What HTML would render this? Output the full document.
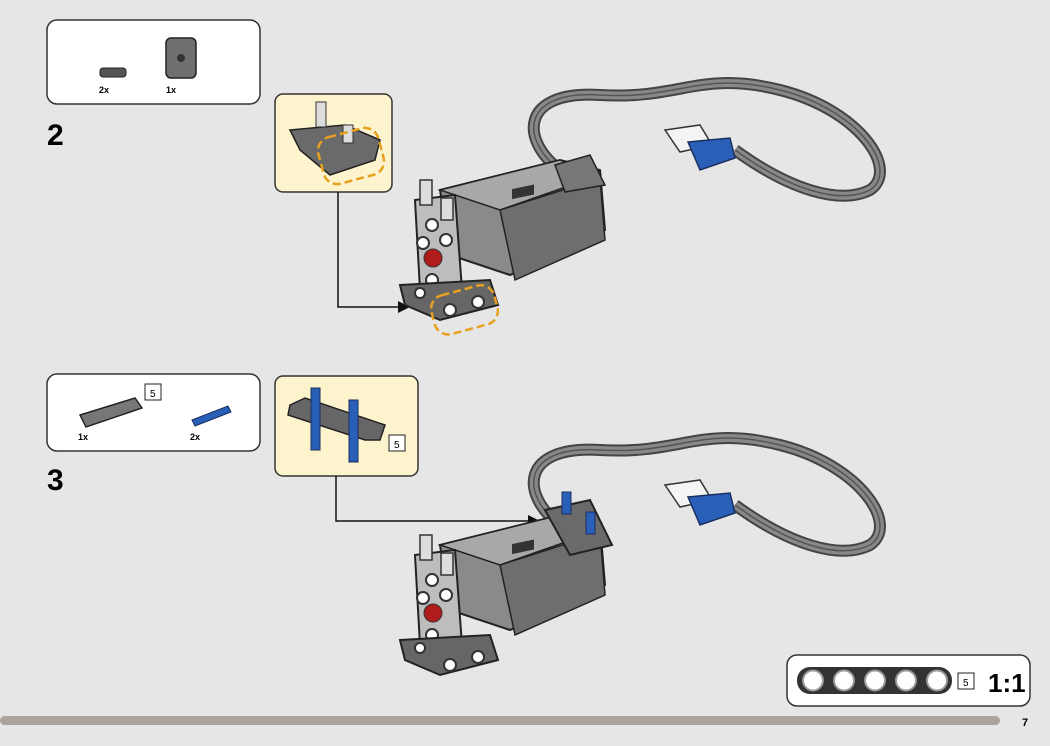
<!DOCTYPE html>
<html><head><meta charset="utf-8"><style>
html,body{margin:0;padding:0;background:#e6e6e6;}
svg{display:block;font-family:"Liberation Sans",sans-serif;}
</style></head><body>
<svg width="1050" height="746" viewBox="0 0 1050 746" xmlns="http://www.w3.org/2000/svg">
<rect width="1050" height="746" fill="#e6e6e6"/>
<defs>
<g id="motor">
  <!-- cable -->
  <path d="M560 170 C520 140 520 90 600 95 C680 100 700 70 780 90 C860 110 900 170 870 190 C840 205 790 190 735 150" fill="none" stroke="#444" stroke-width="12"/>
  <path d="M560 170 C520 140 520 90 600 95 C680 100 700 70 780 90 C860 110 900 170 870 190 C840 205 790 190 735 150" fill="none" stroke="#888" stroke-width="8" stroke-dasharray="none"/>
  <path d="M560 170 C520 140 520 90 600 95 C680 100 700 70 780 90 C860 110 900 170 870 190 C840 205 790 190 735 150" fill="none" stroke="#555" stroke-width="1.5"/>
  <!-- plug -->
  <polygon points="665,130 700,125 712,145 680,152" fill="#f4f4f4" stroke="#333" stroke-width="1.5"/>
  <polygon points="688,142 730,138 735,158 700,170" fill="#2a5fb8" stroke="#1a2f60" stroke-width="1.5"/>
  <!-- body -->
  <polygon points="440,190 560,160 600,170 605,230 510,275 450,255" fill="#8a8a8a" stroke="#222" stroke-width="2"/>
  <polygon points="440,190 560,160 600,175 500,210" fill="#a8a8a8" stroke="#222" stroke-width="1.5"/>
  <polygon points="500,210 600,178 605,240 515,280" fill="#6e6e6e" stroke="#222" stroke-width="1.5"/>
  <rect x="512" y="188" width="22" height="10" fill="#333" transform="skewY(-12) translate(0,110)"/>
  <!-- front face -->
  <polygon points="415,200 455,195 462,290 420,290" fill="#bdbdbd" stroke="#222" stroke-width="2"/>
  <circle cx="433" cy="258" r="9" fill="#b01c1c" stroke="#333"/>
  <circle cx="432" cy="225" r="6" fill="#fff" stroke="#333" stroke-width="2"/>
  <circle cx="446" cy="240" r="6" fill="#fff" stroke="#333" stroke-width="2"/>
  <circle cx="423" cy="243" r="6" fill="#fff" stroke="#333" stroke-width="2"/>
  <circle cx="432" cy="280" r="6" fill="#fff" stroke="#333" stroke-width="2"/>
  <!-- pins -->
  <rect x="420" y="180" width="12" height="25" fill="#ddd" stroke="#333" stroke-width="1.5"/>
  <rect x="441" y="198" width="12" height="22" fill="#ddd" stroke="#333" stroke-width="1.5"/>
  <!-- top right plate -->
  <polygon points="555,165 590,155 605,185 565,192" fill="#777" stroke="#222" stroke-width="1.5"/>
  <!-- bottom beam -->
  <polygon points="400,285 490,280 498,305 440,320 405,305" fill="#666" stroke="#222" stroke-width="2"/>
  <circle cx="450" cy="310" r="6" fill="#fff" stroke="#333" stroke-width="2"/>
  <circle cx="478" cy="302" r="6" fill="#fff" stroke="#333" stroke-width="2"/>
  <circle cx="420" cy="293" r="5" fill="#fff" stroke="#333" stroke-width="2"/>
</g>
</defs>

<!-- Step 2 parts -->
<rect x="47" y="20" width="213" height="84" rx="10" fill="#fff" stroke="#333" stroke-width="1.5"/>
<rect x="100" y="68" width="26" height="9" rx="3" fill="#555" stroke="#222"/>
<rect x="166" y="38" width="30" height="40" rx="5" fill="#707070" stroke="#222" stroke-width="1.5"/>
<circle cx="181" cy="58" r="4" fill="#333"/>
<text x="99" y="93" font-size="9" font-weight="bold">2x</text>
<text x="166" y="93" font-size="9" font-weight="bold">1x</text>
<text x="47" y="145" font-size="30" font-weight="bold">2</text>

<!-- callout 2 -->
<rect x="275" y="94" width="117" height="98" rx="8" fill="#fdf3cc" stroke="#333" stroke-width="1.5"/>
<polygon points="290,130 345,125 380,140 375,160 330,175 300,150" fill="#6a6a6a" stroke="#222" stroke-width="1.5"/>
<rect x="316" y="102" width="10" height="25" fill="#ddd" stroke="#333"/>
<rect x="343" y="125" width="10" height="18" fill="#ddd" stroke="#333"/>
<rect x="320" y="132" width="62" height="48" rx="14" fill="none" stroke="#e8a020" stroke-width="2.5" stroke-dasharray="8 4" transform="rotate(-15 351 156)"/>
<polyline points="338,192 338,307 400,307" fill="none" stroke="#111" stroke-width="1.5"/>
<polygon points="410,307 398,301 398,313" fill="#111"/>

<use href="#motor"/>
<rect x="432" y="290" width="65" height="40" rx="14" fill="none" stroke="#e8a020" stroke-width="2.5" stroke-dasharray="8 4" transform="rotate(-15 464 310)"/>

<!-- Step 3 parts -->
<rect x="47" y="374" width="213" height="77" rx="10" fill="#fff" stroke="#333" stroke-width="1.5"/>
<polygon points="80,415 135,398 142,408 86,427" fill="#777" stroke="#222" stroke-width="1.5"/>
<rect x="145" y="384" width="16" height="16" fill="#fff" stroke="#222"/>
<text x="150" y="397" font-size="10">5</text>
<polygon points="192,420 228,406 231,412 195,426" fill="#2a5fb8" stroke="#1a2f60"/>
<text x="78" y="440" font-size="9" font-weight="bold">1x</text>
<text x="190" y="440" font-size="9" font-weight="bold">2x</text>
<text x="47" y="490" font-size="30" font-weight="bold">3</text>

<!-- callout 3 -->
<rect x="275" y="376" width="143" height="100" rx="8" fill="#fdf3cc" stroke="#333" stroke-width="1.5"/>
<polygon points="290,405 305,398 385,425 380,440 365,440 288,415" fill="#666" stroke="#222" stroke-width="1.5"/>
<rect x="311" y="388" width="9" height="62" fill="#2a5fb8" stroke="#1a2f60"/>
<rect x="349" y="400" width="9" height="62" fill="#2a5fb8" stroke="#1a2f60"/>
<rect x="389" y="435" width="16" height="16" fill="#fff" stroke="#222"/>
<text x="394" y="448" font-size="10">5</text>
<polyline points="336,476 336,521 530,521" fill="none" stroke="#111" stroke-width="1.5"/>
<polygon points="540,521 528,515 528,527" fill="#111"/>

<g transform="translate(0,355)"><use href="#motor"/></g>
<polygon points="545,510 590,500 612,545 570,555" fill="#6a6a6a" stroke="#222" stroke-width="2"/>
<rect x="562" y="492" width="9" height="22" fill="#2a5fb8" stroke="#1a2f60"/>
<rect x="586" y="512" width="9" height="22" fill="#2a5fb8" stroke="#1a2f60"/>

<!-- 1:1 box -->
<rect x="787" y="655" width="243" height="51" rx="10" fill="#fff" stroke="#333" stroke-width="1.5"/>
<rect x="797" y="667" width="155" height="27" rx="13" fill="#333"/>
<circle cx="813" cy="680.5" r="10" fill="#fff" stroke="#999" stroke-width="2"/>
<circle cx="844" cy="680.5" r="10" fill="#fff" stroke="#999" stroke-width="2"/>
<circle cx="875" cy="680.5" r="10" fill="#fff" stroke="#999" stroke-width="2"/>
<circle cx="906" cy="680.5" r="10" fill="#fff" stroke="#999" stroke-width="2"/>
<circle cx="937" cy="680.5" r="10" fill="#fff" stroke="#999" stroke-width="2"/>
<rect x="958" y="673" width="16" height="16" fill="#fff" stroke="#222"/>
<text x="963" y="686" font-size="10">5</text>
<text x="988" y="692" font-size="26" font-weight="bold">1:1</text>

<!-- footer -->
<rect x="0" y="716" width="1000" height="9" rx="4.5" fill="#aaa49f"/>
<text x="1022" y="726" font-size="11" font-weight="bold">7</text>
</svg>
</body></html>
